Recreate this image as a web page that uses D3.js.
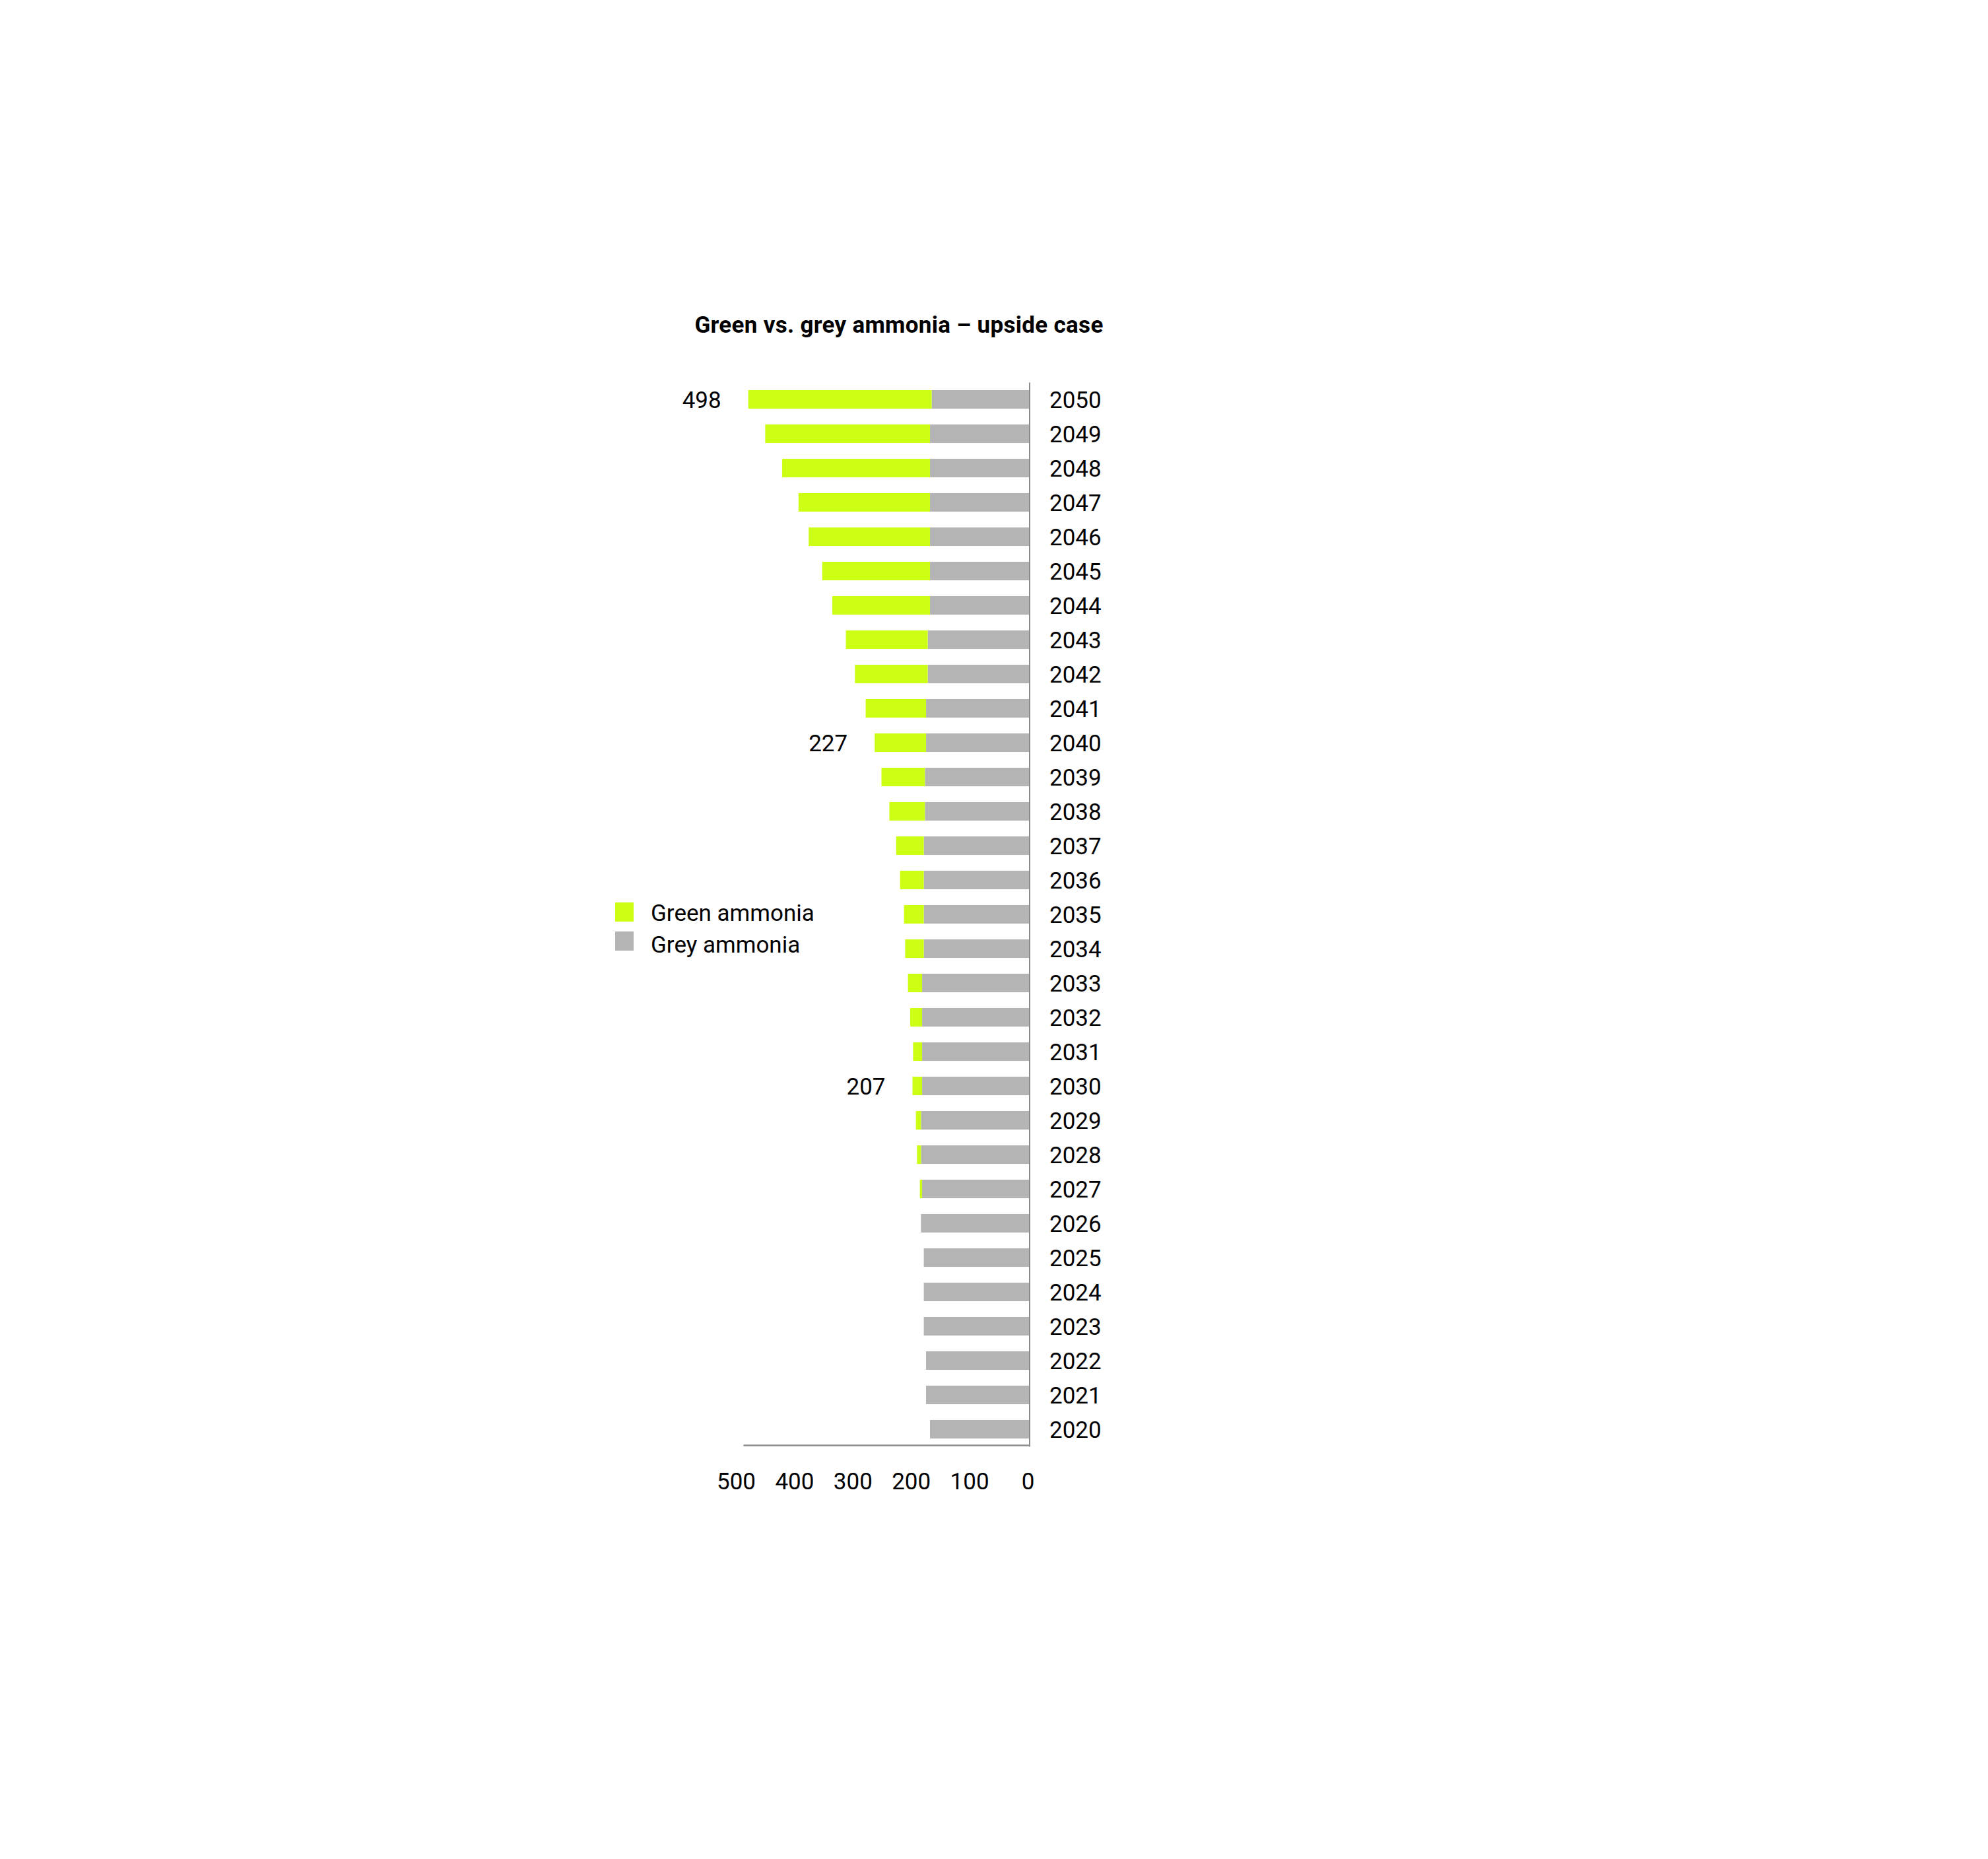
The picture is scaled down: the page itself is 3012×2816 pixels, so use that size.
<!DOCTYPE html>
<html>
<head>
<meta charset="utf-8">
<script src="https://cdn.jsdelivr.net/npm/d3@7"></script>
<style>
    body { margin: 0; background: #fff; }
    svg { display: block; font-family: Roboto, "Noto Sans", sans-serif; }
    .bar-label, .axis text { fill: #000; font-size: 35px; }
    .chart-title { font-size: 35px; font-weight: 700; letter-spacing: 0.3px; }
</style>
</head>
<body>
<svg id="chart"></svg>
<script>
// years from top to bottom
const years = [2050, 2049, 2048, 2047, 2046, 2045, 2044, 2043, 2042, 2041, 2040,
               2039, 2038, 2037, 2036, 2035, 2034, 2033, 2032, 2031, 2030,
               2029, 2028, 2027, 2026, 2025, 2024, 2023, 2022, 2021, 2020];

const greenAmmonia = [325, 292, 262, 233, 215, 191, 173, 145, 129, 107, 91,
                      77, 63, 49, 42, 35, 33, 25, 21, 16, 17,
                      9, 7, 4, 0, 0, 0, 0, 0, 0, 0];

const greyAmmonia = [173, 176, 176, 176, 176, 176, 176, 180, 180, 183, 183,
                     185, 185, 187, 187, 187, 187, 190, 190, 190, 190,
                     192, 192, 190, 192, 187, 187, 187, 183, 183, 176];

// data labels shown next to a few bars
const labelYears = [2050, 2040, 2030];
const labelTexts = ['498', '227', '207'];

const xTicks = [500, 400, 300, 200, 100, 0];

const seriesNames = ['Green ammonia', 'Grey ammonia'];
const seriesColors = ['#ccff14', '#b4b4b4'];

const title = 'Green vs. grey ammonia \u2013 upside case';

class ammoniaBarChart {

    constructor(_config) {
        this.config = {
            parentElement: _config.parentElement,
            containerWidth: _config.containerWidth || 3012,
            containerHeight: _config.containerHeight || 2816
        };

        this.data = years.map((y, i) => ({
            year: y,
            grey: greyAmmonia[i],
            green: greenAmmonia[i]
        }));
        this.initVis();
    }

    initVis() {
        let vis = this;

        vis.axisX = 1559.5;

        vis.svg = d3.select(vis.config.parentElement)
            .attr('width', vis.config.containerWidth)
            .attr('height', vis.config.containerHeight);

        // bars grow leftwards from the axis
        vis.xScale = d3.scaleLinear()
            .domain([0, 507])
            .range([vis.axisX, 1126]);

        // tick labels are spaced a little wider than the bars
        vis.tickScale = d3.scaleLinear()
            .domain([0, 500])
            .range([1557, 1115]);

        vis.yScale = d3.scaleBand()
            .domain(years)
            .range([579, 2191])
            .paddingInner(0.46)
            .paddingOuter(0.23);

        vis.stack = d3.stack().keys(['grey', 'green']);
        vis.series = vis.stack(vis.data);

        vis.svg.append('text')
            .attr('class', 'chart-title')
            .attr('x', 1362)
            .attr('y', 504)
            .attr('text-anchor', 'middle')
            .text(title);

        vis.renderVis();
    }

    renderVis() {
        let vis = this;
        const colorOf = { grey: seriesColors[1], green: seriesColors[0] };

        vis.svg.selectAll('.layer')
            .data(vis.series)
            .join('g')
            .attr('class', 'layer')
            .attr('fill', d => colorOf[d.key])
            .selectAll('rect')
            .data(d => d.filter(s => s[1] > s[0]))
            .join('rect')
            .attr('x', d => vis.xScale(d[1]))
            .attr('y', d => vis.yScale(d.data.year))
            .attr('width', d => vis.xScale(d[0]) - vis.xScale(d[1]))
            .attr('height', vis.yScale.bandwidth());

        // year labels + vertical axis line
        const yAxisG = vis.svg.append('g')
            .attr('class', 'axis')
            .attr('transform', `translate(${vis.axisX},0)`)
            .call(d3.axisRight(vis.yScale).tickSize(0).tickSizeOuter(0).tickPadding(30.5));
        yAxisG.attr('font-family', null).attr('font-size', null);
        yAxisG.select('.domain').attr('stroke', '#8c8c8c').attr('stroke-width', 2);
        yAxisG.selectAll('text').attr('dy', '0.36em');

        // bottom axis line
        const xLine = vis.svg.append('g')
            .attr('transform', 'translate(0,2189)')
            .call(d3.axisBottom(vis.xScale).tickValues([]).tickSizeOuter(0));
        xLine.select('.domain').attr('stroke', '#8c8c8c').attr('stroke-width', 2.5);

        // bottom tick labels
        const xAxisG = vis.svg.append('g')
            .attr('class', 'axis')
            .attr('transform', 'translate(0,2189)')
            .call(d3.axisBottom(vis.tickScale).tickValues(xTicks).tickSize(0).tickPadding(42));
        xAxisG.attr('font-family', null).attr('font-size', null);
        xAxisG.select('.domain').remove();

        // value labels
        const totals = new Map(vis.data.map(d => [d.year, d.grey + d.green]));
        vis.svg.selectAll('.bar-label')
            .data(labelYears)
            .join('text')
            .attr('class', 'bar-label')
            .attr('x', d => vis.xScale(totals.get(d)) - 41)
            .attr('y', d => vis.yScale(d) + vis.yScale.bandwidth() / 2)
            .attr('dy', '0.36em')
            .attr('text-anchor', 'end')
            .text((d, i) => labelTexts[i]);

        // legend
        const legend = vis.svg.append('g')
            .attr('transform', 'translate(932,1367)');
        legend.selectAll('rect')
            .data(seriesNames)
            .join('rect')
            .attr('y', (d, i) => i * 44)
            .attr('width', 28)
            .attr('height', 29)
            .attr('fill', (d, i) => seriesColors[i]);
        legend.selectAll('text')
            .data(seriesNames)
            .join('text')
            .attr('class', 'bar-label')
            .attr('x', 54)
            .attr('y', (d, i) => 15.5 + i * 48)
            .attr('dy', '0.36em')
            .text(d => d);
    }
}

new ammoniaBarChart({ parentElement: '#chart' });
</script>
</body>
</html>
